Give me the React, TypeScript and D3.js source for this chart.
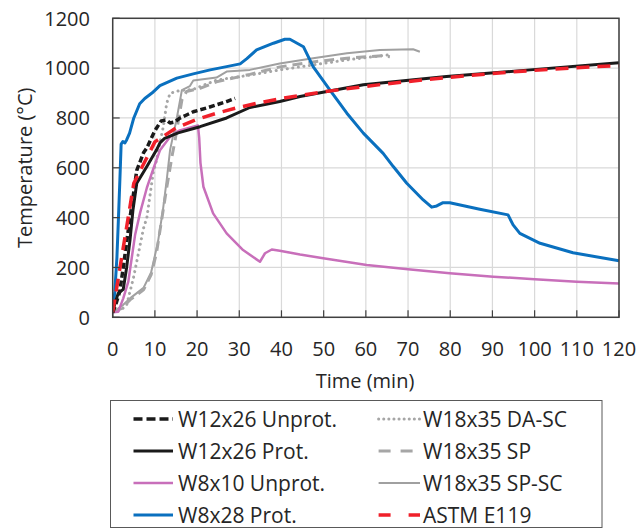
import React from "react";
import * as d3 from "d3";

// Temperature histories, [time (min), temperature (°C)]
const w12x26Unprot: [number, number][] = [
  [0, 20], [0.7, 50], [1.7, 105], [2.5, 200], [3.3, 300], [4.1, 400], [4.8, 480], [5.7, 590],
  [7.3, 660], [8.1, 680], [9.6, 735], [10.4, 760], [11.5, 788], [12.7, 792], [13.6, 780],
  [14.7, 784], [15.9, 799], [17.5, 812], [19.1, 825], [22.3, 840], [27, 866], [29, 879],
];

const w12x26Prot: [number, number][] = [
  [0, 20], [0.6, 60], [1.3, 96], [2.5, 112], [3.3, 200], [4.1, 310], [4.8, 430], [5.7, 538],
  [8.1, 605], [10.4, 672], [11.2, 700], [12.3, 718], [15.5, 740], [20.7, 765], [27, 800],
  [32.5, 842], [39.6, 866], [44.4, 886], [59.4, 933], [79.1, 966], [98.9, 993], [120, 1022],
];

const w8x10Unprot: [number, number][] = [
  [0, 20], [1.3, 22], [2.5, 76], [3.7, 143], [4.5, 237], [5.3, 330], [6.5, 420], [8.1, 520],
  [9.6, 595], [11.2, 670], [13.6, 725], [15.9, 750], [18, 760], [20.2, 770], [20.5, 720],
  [20.8, 620], [21.5, 524], [23.8, 417], [27, 337], [30.9, 270], [34.9, 223], [36.1, 257],
  [37.7, 272], [39.6, 267], [44.4, 252], [49.9, 237], [60.2, 210], [70, 193], [79.9, 177],
  [90.2, 163], [100, 153], [110, 143], [120, 136],
];

const w8x28Prot: [number, number][] = [
  [0, 20], [0.5, 103], [1.0, 240], [1.3, 370], [1.7, 551], [2.0, 695], [2.4, 705], [2.9, 700],
  [3.3, 712], [4.0, 739], [5.0, 800], [6.4, 857], [7.6, 878], [9.3, 900], [11.2, 930],
  [15.2, 960], [19.1, 977], [23.1, 993], [27, 1006], [30.2, 1017], [31.8, 1038], [34.1, 1073],
  [38.1, 1100], [40.8, 1116], [42, 1116], [45.2, 1086], [47.5, 1006], [51.5, 912], [55.5, 819],
  [59.4, 739], [64.1, 658], [66.5, 605], [69.7, 538], [73.6, 471], [75.6, 442], [76.8, 447],
  [78.3, 460], [79.9, 460], [87, 434], [93.7, 411], [94.9, 371], [96.5, 337], [101.3, 297],
  [109.1, 259], [120, 227],
];

const w18x35DASC: [number, number][] = [
  [0, 20], [2, 30], [3.3, 49], [4.1, 103], [4.9, 157], [5.7, 223], [6.5, 290], [7.3, 357],
  [8.1, 400], [8.8, 484], [9.6, 580], [10.4, 630], [11.2, 700], [12, 765], [12.8, 859],
  [13.6, 899], [15.9, 910], [19.1, 915], [24.6, 952], [32.5, 972], [39.6, 993], [47.5, 1013],
  [55.5, 1033], [65.3, 1053], [66, 1050],
];

const w18x35SP: [number, number][] = [
  [0, 20], [2, 35], [4.1, 70], [7.3, 110], [9.1, 170], [10.4, 260], [11.5, 380], [12.8, 520],
  [14.1, 650], [14.8, 712], [16.4, 872], [17.5, 906], [20.7, 919], [24.6, 945], [32.5, 975],
  [39.6, 1005], [47.5, 1025], [55.5, 1040], [64, 1050], [65.7, 1046],
];

const w18x35SPSC: [number, number][] = [
  [0, 20], [2.5, 50], [4.1, 76], [7.3, 118], [9.1, 180], [10.7, 300], [11.9, 430], [12.8, 551],
  [13.6, 672], [14.4, 735], [15.2, 800], [16.4, 912], [18.3, 928], [19.1, 950], [24.6, 962],
  [27, 986], [32.5, 993], [39.6, 1019], [47.5, 1040], [55.5, 1060], [63.3, 1073], [71.2, 1076],
  [72.8, 1066],
];

const astmE119: [number, number][] = [
  [0, 20], [5, 538], [10, 704], [15, 760], [20, 795], [25, 821], [30, 843], [35, 862], [40, 878],
  [45, 892], [50, 905], [55, 916], [60, 927], [65, 937], [70, 946], [75, 955], [80, 963],
  [85, 971], [90, 978], [95, 985], [100, 991], [105, 997], [110, 1002], [115, 1007], [120, 1010],
];

const xTicks = [0, 10, 20, 30, 40, 50, 60, 70, 80, 90, 100, 110, 120];
const yTicks = [0, 200, 400, 600, 800, 1000, 1200];

type Style = { color: string; width: number; dash?: string; cap?: "round" | "butt"; legendDash?: string };

const series: { name: string; data: [number, number][]; style: Style }[] = [
  { name: "W18x35 SP-SC", data: w18x35SPSC, style: { color: "#a0a0a0", width: 2 } },
  { name: "W18x35 SP", data: w18x35SP, style: { color: "#a6a6a6", width: 3, dash: "10,6", legendDash: "12,10" } },
  { name: "W18x35 DA-SC", data: w18x35DASC, style: { color: "#a6a6a6", width: 3, dash: "0.1,5.5", cap: "round", legendDash: "0.1,5" } },
  { name: "W8x10 Unprot.", data: w8x10Unprot, style: { color: "#c86fba", width: 2.5 } },
  { name: "W8x28 Prot.", data: w8x28Prot, style: { color: "#0a70bf", width: 3 } },
  { name: "W12x26 Unprot.", data: w12x26Unprot, style: { color: "#1a1a1a", width: 3.5, dash: "6,3", legendDash: "9,4" } },
  { name: "W12x26 Prot.", data: w12x26Prot, style: { color: "#1a1a1a", width: 3 } },
  { name: "ASTM E119", data: astmE119, style: { color: "#f0202a", width: 3.5, dash: "13,8", legendDash: "12,18" } },
];

const legendOrder = [
  ["W12x26 Unprot.", "W12x26 Prot.", "W8x10 Unprot.", "W8x28 Prot."],
  ["W18x35 DA-SC", "W18x35 SP", "W18x35 SP-SC", "ASTM E119"],
];

const FONT = "'Open Sans', 'Liberation Sans', sans-serif";

export default function App() {
  const W = 636;
  const H = 529;
  const left = 112.7, right = 619, top = 18.3, bottom = 317.3;
  const x = d3.scaleLinear().domain([0, 120]).range([left, right]);
  const y = d3.scaleLinear().domain([0, 1200]).range([bottom, top]);
  const line = d3
    .line<[number, number]>()
    .x((d) => x(d[0]))
    .y((d) => y(d[1]));

  const legendRowsY = [419, 451, 483, 515];
  const legendCols = [
    { x1: 133.5, x2: 173, tx: 178 },
    { x1: 378.6, x2: 420, tx: 423 },
  ];

  return (
    <svg
      width={W}
      height={H}
      style={{ position: "absolute", left: 0, top: 0, background: "#fff" }}
      fontFamily={FONT}
    >
      <rect x={0} y={0} width={W} height={H} fill="#fff" />
      <defs>
        <clipPath id="plotClip">
          <rect x={left} y={top - 4} width={right - left + 2} height={bottom - top + 4} />
        </clipPath>
      </defs>

      {/* gridlines */}
      {xTicks.map((t) => (
        <line key={"gx" + t} x1={x(t)} x2={x(t)} y1={top} y2={bottom} stroke="#d9d9d9" strokeWidth={1.2} />
      ))}
      {yTicks.map((t) => (
        <line key={"gy" + t} x1={left} x2={right} y1={y(t)} y2={y(t)} stroke="#d9d9d9" strokeWidth={1.2} />
      ))}

      {/* data lines */}
      <g clipPath="url(#plotClip)">
        {series.map((s) => (
          <path
            key={s.name}
            d={line(s.data) || ""}
            fill="none"
            stroke={s.style.color}
            strokeWidth={s.style.width}
            strokeDasharray={s.style.dash}
            strokeLinecap={s.style.cap || "butt"}
            strokeLinejoin="round"
          />
        ))}
      </g>

      {/* frame */}
      <rect x={left} y={top} width={right - left} height={bottom - top} fill="none" stroke="#404040" strokeWidth={1.5} />

      {/* inside ticks */}
      {xTicks.map((t) => (
        <line key={"tx" + t} x1={x(t)} x2={x(t)} y1={bottom} y2={bottom - 7} stroke="#404040" strokeWidth={1.2} />
      ))}
      {yTicks.map((t) => (
        <line key={"ty" + t} x1={left} x2={left + 7} y1={y(t)} y2={y(t)} stroke="#404040" strokeWidth={1.2} />
      ))}

      {/* tick labels */}
      {xTicks.map((t) => (
        <text key={"lx" + t} x={x(t)} y={349} dy="0.36em" textAnchor="middle" fontSize={20} fill="#262626">
          {t}
        </text>
      ))}
      {yTicks.map((t) => (
        <text key={"ly" + t} x={90} y={y(t)} dy="0.36em" textAnchor="end" fontSize={20} fill="#262626">
          {t}
        </text>
      ))}

      {/* axis titles */}
      <text x={365} y={381} dy="0.36em" textAnchor="middle" fontSize={20} fill="#262626">
        Time (min)
      </text>
      <text
        transform={`translate(25,${(top + bottom) / 2}) rotate(-90)`}
        dy="0.36em"
        textAnchor="middle"
        fontSize={20}
        fill="#262626"
      >
        Temperature (°C)
      </text>

      {/* legend */}
      <rect x={110.5} y={400.5} width={491.5} height={127} fill="#fff" stroke="#595959" strokeWidth={1} />
      {legendOrder.map((col, ci) =>
        col.map((name, ri) => {
          const s = series.find((v) => v.name === name)!;
          const c = legendCols[ci];
          const yy = legendRowsY[ri];
          return (
            <g key={name}>
              <line
                x1={c.x1}
                x2={c.x2}
                y1={yy}
                y2={yy}
                stroke={s.style.color}
                strokeWidth={s.style.width}
                strokeDasharray={s.style.legendDash}
                strokeLinecap={s.style.cap || "butt"}
              />
              <text x={c.tx} y={yy} dy="0.36em" fontSize={21} fill="#262626">
                {name}
              </text>
            </g>
          );
        })
      )}
    </svg>
  );
}
